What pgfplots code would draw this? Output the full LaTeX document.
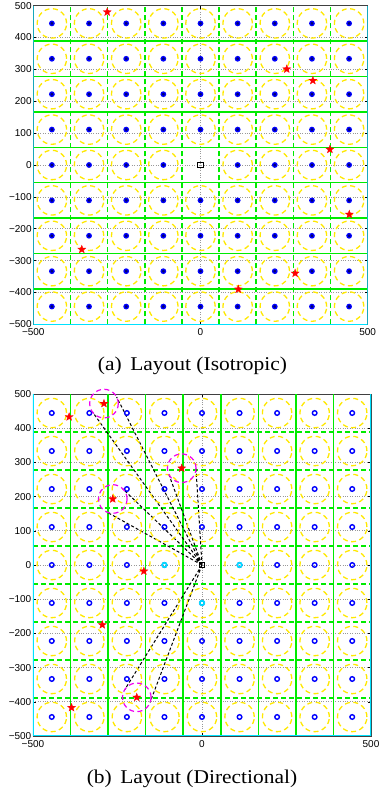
\documentclass[border=0pt]{standalone}
\usepackage{fontspec}
\setmainfont{Liberation Serif}
\newfontfamily\arialfont{Liberation Sans}
\usepackage{graphicx}
\usepackage{pgfplots}
\usepackage{pgfplotstable}
\pgfplotsset{compat=1.18}
\usetikzlibrary{plotmarks}
\definecolor{mygreen}{RGB}{0,235,0}
\definecolor{myyellow}{RGB}{255,232,0}
\definecolor{mycyan}{RGB}{0,225,255}
\definecolor{mymag}{RGB}{240,0,240}

\pgfdeclareplotmark{fstar}{%
  \pgfpathmoveto{\pgfpointpolar{90}{\pgfplotmarksize}}%
  \pgfpathlineto{\pgfpointpolar{126}{0.42\pgfplotmarksize}}%
  \pgfpathlineto{\pgfpointpolar{162}{\pgfplotmarksize}}%
  \pgfpathlineto{\pgfpointpolar{198}{0.42\pgfplotmarksize}}%
  \pgfpathlineto{\pgfpointpolar{234}{\pgfplotmarksize}}%
  \pgfpathlineto{\pgfpointpolar{270}{0.42\pgfplotmarksize}}%
  \pgfpathlineto{\pgfpointpolar{306}{\pgfplotmarksize}}%
  \pgfpathlineto{\pgfpointpolar{342}{0.42\pgfplotmarksize}}%
  \pgfpathlineto{\pgfpointpolar{18}{\pgfplotmarksize}}%
  \pgfpathlineto{\pgfpointpolar{54}{0.42\pgfplotmarksize}}%
  \pgfpathclose
  \pgfusepathqfillstroke}

% cell centres (all except the BS cell at 0,0)
\pgfplotstableread{
x y
-444.4 444.4
-333.3 444.4
-222.2 444.4
-111.1 444.4
0 444.4
111.1 444.4
222.2 444.4
333.3 444.4
444.4 444.4
-444.4 333.3
-333.3 333.3
-222.2 333.3
-111.1 333.3
0 333.3
111.1 333.3
222.2 333.3
333.3 333.3
444.4 333.3
-444.4 222.2
-333.3 222.2
-222.2 222.2
-111.1 222.2
0 222.2
111.1 222.2
222.2 222.2
333.3 222.2
444.4 222.2
-444.4 111.1
-333.3 111.1
-222.2 111.1
-111.1 111.1
0 111.1
111.1 111.1
222.2 111.1
333.3 111.1
444.4 111.1
-444.4 0
-333.3 0
-222.2 0
-111.1 0
111.1 0
222.2 0
333.3 0
444.4 0
-444.4 -111.1
-333.3 -111.1
-222.2 -111.1
-111.1 -111.1
0 -111.1
111.1 -111.1
222.2 -111.1
333.3 -111.1
444.4 -111.1
-444.4 -222.2
-333.3 -222.2
-222.2 -222.2
-111.1 -222.2
0 -222.2
111.1 -222.2
222.2 -222.2
333.3 -222.2
444.4 -222.2
-444.4 -333.3
-333.3 -333.3
-222.2 -333.3
-111.1 -333.3
0 -333.3
111.1 -333.3
222.2 -333.3
333.3 -333.3
444.4 -333.3
-444.4 -444.4
-333.3 -444.4
-222.2 -444.4
-111.1 -444.4
0 -444.4
111.1 -444.4
222.2 -444.4
333.3 -444.4
444.4 -444.4
}\centers

% cells served in the directional layout (cyan)
\pgfplotstableread{
x y
-111.1 0
111.1 0
0 -111.1
}\cyancells

% vertical cell boundaries
\pgfplotstableread{
x y
-388.9 -500
-388.9 500
nan nan
-277.8 -500
-277.8 500
nan nan
-166.7 -500
-166.7 500
nan nan
-55.6 -500
-55.6 500
nan nan
55.6 -500
55.6 500
nan nan
166.7 -500
166.7 500
nan nan
277.8 -500
277.8 500
nan nan
388.9 -500
388.9 500
}\vlines

% horizontal cell boundaries
\pgfplotstableread{
x y
-500 -388.9
500 -388.9
nan nan
-500 -277.8
500 -277.8
nan nan
-500 -166.7
500 -166.7
nan nan
-500 -55.6
500 -55.6
nan nan
-500 55.6
500 55.6
nan nan
-500 166.7
500 166.7
nan nan
-500 277.8
500 277.8
nan nan
-500 388.9
500 388.9
}\hlines

% users, isotropic layout
\pgfplotstableread{
x y
-279 480
258 301
336 265
387 49
445 -155
-355 -265
283 -340
113 -390
}\usersA

% users, directional layout
\pgfplotstableread{
x y
-393 433
-290 472
-264 193
-60 283
-172 -18
-295 -175
-193 -387
-386 -417
}\usersB

% users with a beam (magenta circles)
\pgfplotstableread{
x y
-290 472
-264 193
-60 283
-193 -387
}\beamed

% beam edges from the BS
\pgfplotstableread{
x y
0 0
-324.0 447.4
nan nan
0 0
-252.6 491.3
nan nan
0 0
-284.2 156.2
nan nan
0 0
-235.1 223.4
nan nan
0 0
-99.4 268.4
nan nan
0 0
-18.1 285.6
nan nan
0 0
-153.8 -402.0
nan nan
0 0
-228.6 -364.7
}\beams

\pgfplotsset{
  cellaxis/.style={
    scale only axis,
    xmin=-500, xmax=500, ymin=-500, ymax=500,
    unbounded coords=jump,
    xtick={-500,0,500}, xticklabels={−500,0,500},
    ytick={-500,-400,-300,-200,-100,0,100,200,300,400,500},
    yticklabels={−500,−400,−300,−200,−100,0,100,200,300,400,500},
    tick align=inside, major tick length=3pt,
    tick style={black, line width=0.5pt},
    xmajorgrids, ymajorgrids,
    major grid style={dotted, gray!80, line width=0.6pt},
    axis line style={black!75, line width=0.7pt},
    ticklabel style={font=\arialfont\fontsize{10}{12}\selectfont},
    /pgf/number format/assume math mode=true,
    xticklabel style={inner sep=1pt, yshift=-3.5pt},
    yticklabel style={inner sep=1.5pt},
  },
  gsolid/.style={mygreen, line width=1.5pt, solid},
  gdash/.style={mygreen, line width=1.5pt, dash pattern=on 5pt off 3pt},
  ycirc/.style={only marks, mark=o, mark size=14.7pt,
    mark options={myyellow, line width=1.3pt, dash pattern=on 5pt off 3.5pt}},
}

\begin{document}
\begin{tikzpicture}
\useasboundingbox (0,0) rectangle (381pt,791pt);

% ---------------- (a) isotropic ----------------
\begin{axis}[cellaxis, at={(33.3pt,466.7pt)}, anchor=south west,
  width=334.4pt, height=318.6pt]
\addplot[gdash] table {\vlines};
\addplot[gsolid] table {\hlines};
\addplot[ycirc] table {\centers};
\addplot[only marks, mark=*, mark size=2.2pt,
  mark options={draw=blue, fill=blue!45!black, line width=1.3pt}] table {\centers};
\addplot[mycyan, line width=1.2pt] coordinates {(-500,500) (-500,-500) (500,-500) (500,500)};
\addplot[only marks, mark=square, mark size=2.6pt, mark options={black, line width=1pt}] coordinates {(0,0)};
\addplot[only marks, mark=fstar, mark size=4.2pt, mark options={red, fill=red, line width=0.3pt}] table {\usersA};
\end{axis}
\node at (192.5pt,425.5pt) {\scalebox{1.1}[1]{\fontsize{19.5}{22}\selectfont (a)\hspace{0.4em}Layout (Isotropic)}};

% ---------------- (b) directional ----------------
\begin{axis}[cellaxis, at={(33pt,55pt)}, anchor=south west,
  width=338pt, height=342pt]
\addplot[gsolid] table {\vlines};
\addplot[gdash] table {\hlines};
\addplot[ycirc] table {\centers};
\addplot[only marks, mark=o, mark size=2.3pt,
  mark options={draw=blue, line width=1.4pt}] table {\centers};
\addplot[only marks, mark=o, mark size=2.3pt,
  mark options={draw=mycyan, fill=white, line width=1.6pt}] table {\cyancells};
\addplot[mycyan, line width=1.2pt] coordinates {(-500,500) (-500,-500) (500,-500) (500,500)};
\addplot[black, line width=1pt, dash pattern=on 3pt off 2.2pt] table {\beams};
\addplot[only marks, mark=o, mark size=14.3pt,
  mark options={mymag, line width=1.2pt, dash pattern=on 5pt off 3.5pt}] table {\beamed};
\addplot[only marks, mark=square, mark size=2.6pt, mark options={black, line width=1pt}] coordinates {(0,0)};
\addplot[only marks, mark=fstar, mark size=4.2pt, mark options={red, fill=red, line width=0.3pt}] table {\usersB};
\end{axis}
\node at (192pt,12.5pt) {\scalebox{1.1}[1]{\fontsize{19.5}{22}\selectfont (b)\hspace{0.4em}Layout (Directional)}};
\end{tikzpicture}
\end{document}
